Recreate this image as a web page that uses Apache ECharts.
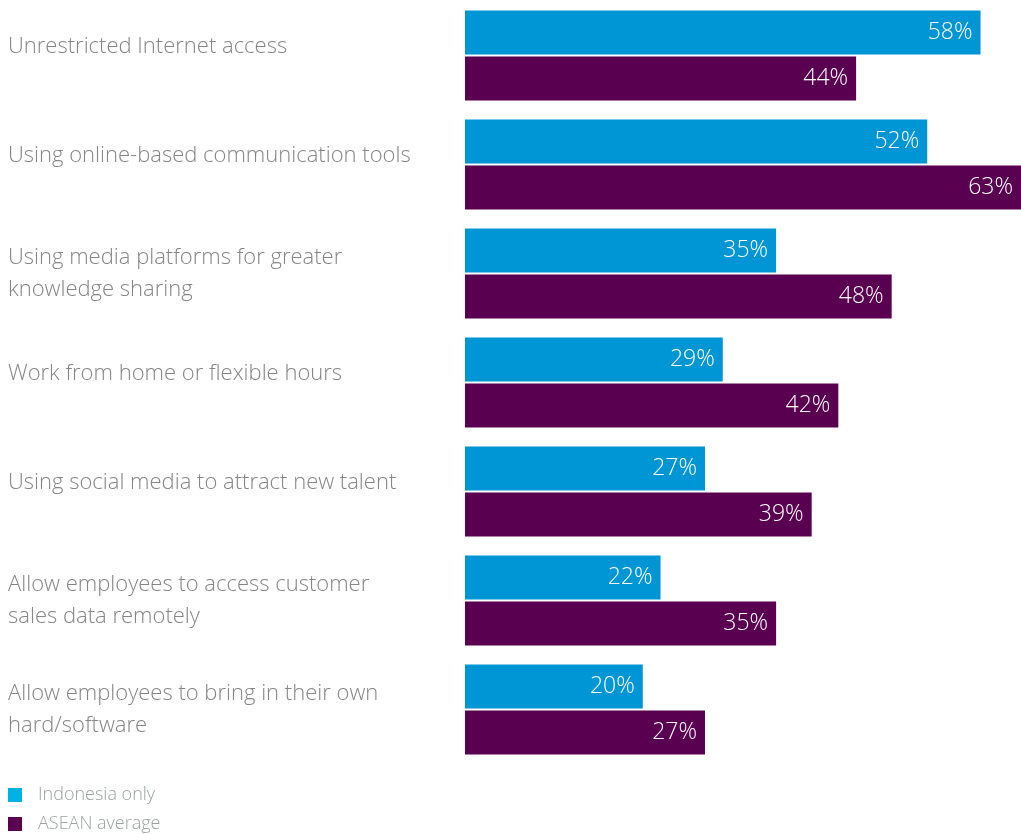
<!DOCTYPE html>
<html>
<head>
<meta charset="utf-8">
<script src="https://cdn.jsdelivr.net/npm/echarts@6/dist/echarts.min.js"></script>
<style>
html,body{margin:0;padding:0;background:#fff;}
#chart{width:1021px;height:834px;}
</style>
</head>
<body>
<div id="chart"></div>
<script>
const categories = [
  "Unrestricted Internet access",
  "Using online-based communication tools",
  "Using media platforms for greater\nknowledge sharing",
  "Work from home or flexible hours",
  "Using social media to attract new talent",
  "Allow employees to access customer\nsales data remotely",
  "Allow employees to bring in their own\nhard/software"
];
const indonesiaOnly = [58, 52, 35, 29, 27, 22, 20];
const aseanAverage = [44, 63, 48, 42, 39, 35, 27];
const seriesNames = ["Indonesia only", "ASEAN average"];

const chart = echarts.init(document.getElementById('chart'));
const labelCfg = {
  show: true,
  position: 'insideRight',
  distance: 8,
  color: '#ffffff',
  fontSize: 23,
  fontFamily: 'Open Sans',
  fontWeight: 300,
  formatter: p => p.value + '%'
};
const catFont = { color: '#858585', fontSize: 22, lineHeight: 32, fontFamily: 'Open Sans', fontWeight: 300 };
chart.setOption({
  animation: false,
  backgroundColor: '#ffffff',
  grid: { left: 465, top: 1, right: 0, height: 763, containLabel: false },
  xAxis: { type: 'value', min: 0, max: 62.55, show: false },
  yAxis: {
    type: 'category', data: categories, inverse: true,
    axisLine: { show: false }, axisTick: { show: false },
    axisLabel: Object.assign({
      align: 'left',
      margin: 457,
      formatter: v => v.indexOf('\n') >= 0 ? v : '{s|' + v + '}',
      rich: { s: Object.assign({ padding: [0, 0, 17, 0] }, catFont) }
    }, catFont)
  },
  legend: {
    orient: 'vertical',
    left: 8,
    top: 786,
    padding: 0,
    itemWidth: 14,
    itemHeight: 14,
    itemGap: 11,
    icon: 'rect',
    textStyle: { color: '#9aa3a1', fontSize: 18, fontFamily: 'Open Sans', fontWeight: 300, padding: [0, 0, 0, 11] },
    data: [
      { name: seriesNames[0], itemStyle: { color: '#00b2e3' } },
      { name: seriesNames[1], itemStyle: { color: '#5a0050' } }
    ]
  },
  series: [
    {
      name: seriesNames[0], type: 'bar', data: indonesiaOnly,
      barWidth: 44, barGap: '4.5%',
      itemStyle: { color: '#0096d6' },
      label: labelCfg
    },
    {
      name: seriesNames[1], type: 'bar', data: aseanAverage,
      barWidth: 44, barGap: '4.5%',
      itemStyle: { color: '#5a0050' },
      label: labelCfg
    }
  ]
});
</script>
</body>
</html>
